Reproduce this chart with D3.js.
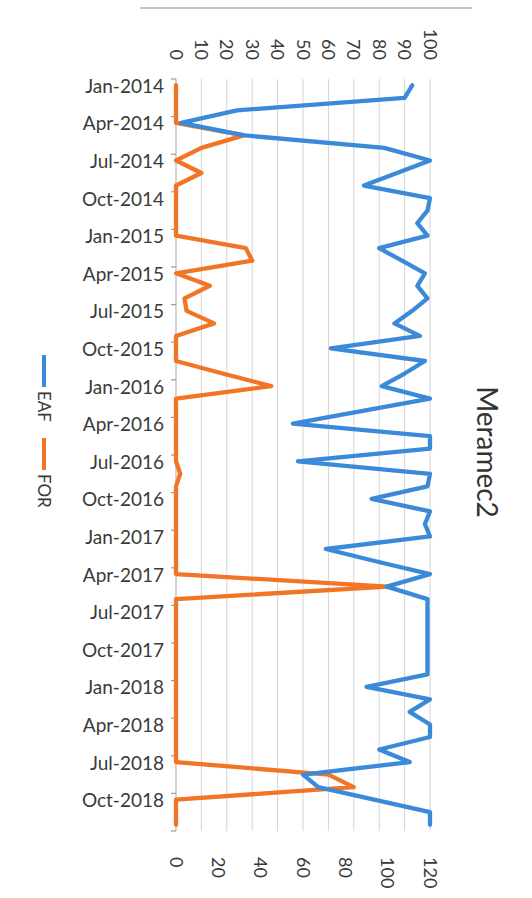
<!DOCTYPE html>
<html>
<head>
<meta charset="utf-8">
<script src="https://cdn.jsdelivr.net/npm/d3@7"></script>
<style>
  html, body { margin: 0; padding: 0; background: #ffffff; }
  svg { display: block; }
  text { font-family: Lato, "Open Sans", sans-serif; fill: #3a3a3a; }
</style>
</head>
<body>
<svg id="chart" width="532" height="898"></svg>
<script>
// ---- data ----
const title = "Meramec2";
const monthNames = ["Jan","Feb","Mar","Apr","May","Jun","Jul","Aug","Sep","Oct","Nov","Dec"];
const years = [2014, 2015, 2016, 2017, 2018];
const months = years.flatMap(y => monthNames.map(m => m + "-" + y));
const seriesNames = ["EAF", "FOR"];
// EAF (primary axis, 0-100)
const eaf = [93, 90, 24, 2, 27, 82, 100, 87, 74, 100,
             99, 95, 99, 80, 89, 98, 95, 99, 93, 86,
             96, 61, 98, 90, 81, 100, 73, 46, 100, 100,
             48, 100, 99, 77, 100, 98, 100, 59, 79, 100,
             83, 99, 99, 99, 99, 99, 99, 99, 75, 100,
             92, 100, 100, 80, 92, 50, 56, 78, 100, 100];
// FOR (secondary axis, 0-120)
const forRate = [0, 0, 0, 0, 32, 12, 0, 12, 0, 0,
                 0, 0, 0, 33, 36, 0, 16, 4, 5, 18,
                 0, 0, 0, 22, 45, 0, 0, 0, 0, 0,
                 0, 2, 0, 0, 0, 0, 0, 0, 0, 0,
                 100, 0, 0, 0, 0, 0, 0, 0, 0, 0,
                 0, 0, 0, 0, 0, 72, 84, 0, 0, 0];
const primaryTicks = [0, 10, 20, 30, 40, 50, 60, 70, 80, 90, 100];
const secondaryTicks = [0, 20, 40, 60, 80, 100, 120];
const labelMonths = months.filter((d, i) => i % 3 === 0);

// ---- drawing ----
const svg = d3.select("#chart");
const colors = { EAF: "#3b8ad9", FOR: "#f27525" };

const y = d3.scaleBand().domain(months).range([79, 831]);
const xP = d3.scaleLinear().domain([0, 100]).range([176, 430]);
const xS = d3.scaleLinear().domain([0, 120]).range([176, 430]);
const yc = d => y(d) + y.bandwidth() / 2;

// top border line of chart frame
svg.append("line").attr("x1", 140).attr("x2", 472).attr("y1", 8).attr("y2", 8)
  .attr("stroke", "#8a8a8a").attr("stroke-width", 1);

// gridlines
svg.append("g").selectAll("line").data(primaryTicks).join("line")
  .attr("x1", d => xP(d)).attr("x2", d => xP(d))
  .attr("y1", y.range()[0]).attr("y2", y.range()[1])
  .attr("stroke", "#d4d4d4").attr("stroke-width", 1);

// primary axis (top), rotated labels
const gTop = svg.append("g").attr("transform", "translate(0,60)")
  .call(d3.axisTop(xP).tickValues(primaryTicks).tickSize(0).tickPadding(0));
gTop.select(".domain").remove();
gTop.selectAll("text")
  .attr("x", 0).attr("y", 0)
  .attr("transform", "rotate(90)")
  .attr("text-anchor", "end")
  .attr("dominant-baseline", "central")
  .attr("dy", null)
  .style("font-size", "18px").style("font-family", "Lato, sans-serif").style("fill", "#3a3a3a");

// secondary axis (bottom), rotated labels
const gBot = svg.append("g").attr("transform", "translate(0,857)")
  .call(d3.axisBottom(xS).tickValues(secondaryTicks).tickSize(0).tickPadding(0));
gBot.select(".domain").remove();
gBot.selectAll("text")
  .attr("x", 0).attr("y", 0)
  .attr("transform", "rotate(90)")
  .attr("text-anchor", "start")
  .attr("dominant-baseline", "central")
  .attr("dy", null)
  .style("font-size", "18px").style("font-family", "Lato, sans-serif").style("fill", "#3a3a3a");

// category axis (left)
const xAxisPos = xP(0);
svg.append("line").attr("x1", xAxisPos).attr("x2", xAxisPos)
  .attr("y1", y.range()[0]).attr("y2", y.range()[1])
  .attr("stroke", "#bfbfbf").attr("stroke-width", 1);
const tickPos = labelMonths.map(d => y(d)).concat([y.range()[1]]);
svg.append("g").selectAll("line").data(tickPos).join("line")
  .attr("x1", xAxisPos - 5).attr("x2", xAxisPos)
  .attr("y1", d => d).attr("y2", d => d)
  .attr("stroke", "#9a9a9a").attr("stroke-width", 1.2);
svg.append("g").selectAll("text").data(labelMonths).join("text")
  .attr("x", 164).attr("y", d => yc(d))
  .attr("text-anchor", "end").attr("dominant-baseline", "central")
  .style("font-size", "19px")
  .text(d => d);

// lines
const lineEAF = d3.line().x(d => xP(d.v)).y(d => yc(d.m));
const lineFOR = d3.line().x(d => xS(d.v)).y(d => yc(d.m));
const eafData = months.map((m, i) => ({ m, v: eaf[i] }));
const forData = months.map((m, i) => ({ m, v: forRate[i] }));

svg.append("path").datum(forData).attr("d", lineFOR)
  .attr("fill", "none").attr("stroke", colors.FOR).attr("stroke-width", 4.3)
  .attr("stroke-linejoin", "round").attr("stroke-linecap", "round");
svg.append("path").datum(eafData).attr("d", lineEAF)
  .attr("fill", "none").attr("stroke", colors.EAF).attr("stroke-width", 4.3)
  .attr("stroke-linejoin", "round").attr("stroke-linecap", "round");

// title
svg.append("text").attr("transform", "translate(488,452) rotate(90)")
  .attr("text-anchor", "middle").attr("dominant-baseline", "central")
  .style("font-size", "28px").style("fill", "#333")
  .text(title);

// legend (rotated)
const legend = [
  { name: seriesNames[0], y0: 355 },
  { name: seriesNames[1], y0: 438 }
];
const lg = svg.append("g").selectAll("g").data(legend).join("g");
lg.append("line").attr("x1", 44).attr("x2", 44)
  .attr("y1", d => d.y0).attr("y2", d => d.y0 + 32)
  .attr("stroke", d => colors[d.name]).attr("stroke-width", 4);
lg.append("text")
  .attr("transform", d => `translate(44,${d.y0 + 36}) rotate(90)`)
  .attr("text-anchor", "start").attr("dominant-baseline", "central")
  .style("font-size", "17px")
  .text(d => d.name);
</script>
</body>
</html>
